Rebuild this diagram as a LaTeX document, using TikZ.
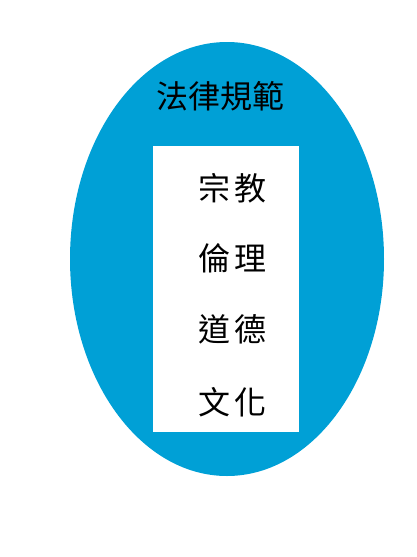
\documentclass[tikz,border=0pt]{standalone}
\usepackage{fontspec}
\newfontfamily\cjk{Noto Sans CJK TC}
\usetikzlibrary{shapes.geometric, positioning}
\definecolor{lawblue}{RGB}{0,160,214}
\tikzstyle{outer} = [ellipse, fill=lawblue, minimum width=314pt, minimum height=434pt, inner sep=0pt]
\tikzstyle{inner} = [rectangle, fill=white, minimum width=146pt, minimum height=286pt, inner sep=0pt]
\tikzstyle{title} = [font=\cjk\fontsize{32}{32}\selectfont, inner sep=0pt]
\tikzstyle{item} = [font=\cjk\fontsize{32}{32}\selectfont, inner sep=0pt]

\begin{document}
\begin{tikzpicture}[x=1pt,y=-1pt]
		\useasboundingbox (0,0) rectangle (417,557);
		\node [outer] (law) at (227,259) {};
		\node [inner] (box) at (226,289) {};
		\node [title] (legal) at (220,96) {法律規範};
		\node [item] (religion) at (232,188) {宗\kern4pt 教};
		\node [item] (ethics) at (232,258) {倫\kern4pt 理};
		\node [item] (morals) at (232,329) {道\kern4pt 德};
		\node [item] (culture) at (232,402) {文\kern4pt 化};
	\end{tikzpicture}
\end{document}
